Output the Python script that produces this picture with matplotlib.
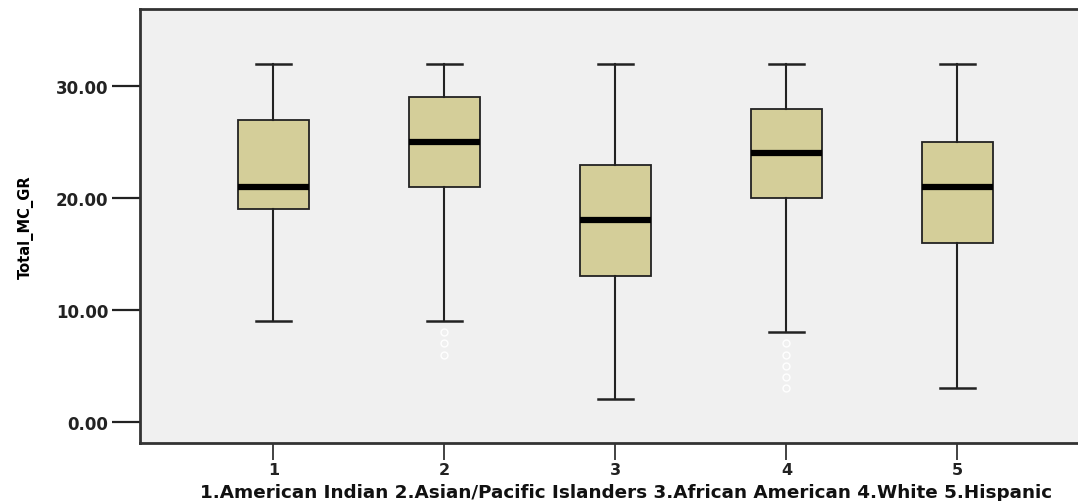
import matplotlib
matplotlib.use("Agg")
import matplotlib.pyplot as plt

# group summaries of Total_MC_GR by ethnicity
groups = ["1", "2", "3", "4", "5"]
whislo = [9, 9, 2, 8, 3]
q1 = [19, 21, 13, 20, 16]
med = [21, 25, 18, 24, 21]
q3 = [27, 29, 23, 28, 25]
whishi = [32, 32, 32, 32, 32]
fliers = [[], [8, 7, 6], [], [7, 6, 5, 4, 3], []]

yticks = [0, 10, 20, 30]
xlabel = "1.American Indian 2.Asian/Pacific Islanders 3.African American 4.White 5.Hispanic"

stats = [dict(label=g, whislo=lo, q1=a, med=m, q3=b, whishi=hi, fliers=f)
         for g, lo, a, m, b, hi, f in zip(groups, whislo, q1, med, q3, whishi, fliers)]

fig = plt.figure(figsize=(10.78, 5.02), dpi=100)
fig.patch.set_facecolor("white")
ax = fig.add_axes([0.1299, 0.1155, 0.882, 0.8645])
ax.set_facecolor("#f0f0f0")

ax.bxp(stats, widths=0.415, patch_artist=True,
       boxprops=dict(facecolor="#d4ce99", edgecolor="#222222", linewidth=1.3),
       medianprops=dict(color="black", linewidth=4.5, solid_capstyle="butt"),
       whiskerprops=dict(color="#222222", linewidth=1.5),
       capprops=dict(color="#222222", linewidth=1.8),
       capwidths=0.2,
       flierprops=dict(marker="o", markerfacecolor="none", markeredgecolor="white",
                       markersize=5, markeredgewidth=1.0))

ax.set_xlim(0.22, 5.78)
ax.set_ylim(-1.9, 36.9)
ax.set_yticks(yticks)
ax.set_yticklabels([f"{v:.2f}" for v in yticks])

for side in ["left", "top", "bottom"]:
    ax.spines[side].set_color("#333333")
    ax.spines[side].set_linewidth(2)
ax.spines["right"].set_visible(False)

ax.tick_params(axis="y", length=20, width=1.6, color="#222222", pad=3,
               labelsize=12)
ax.tick_params(axis="x", length=12, width=1.2, color="#222222", pad=2,
               labelsize=11.5)
for lbl in ax.get_yticklabels() + ax.get_xticklabels():
    lbl.set_fontweight("bold")
    lbl.set_fontfamily("DejaVu Sans")
    lbl.set_color("#222222")

ax.set_ylabel("Total_MC_GR", fontsize=10.5, family="Liberation Sans Narrow",
              fontweight="bold")
ax.yaxis.set_label_coords(-0.112, 0.5)
fig.text(0.581, 0.018, xlabel, ha="center", va="center", fontsize=13.2,
         fontweight="bold", family="DejaVu Sans", color="#111111")

fig.savefig("out.png", dpi=100)
